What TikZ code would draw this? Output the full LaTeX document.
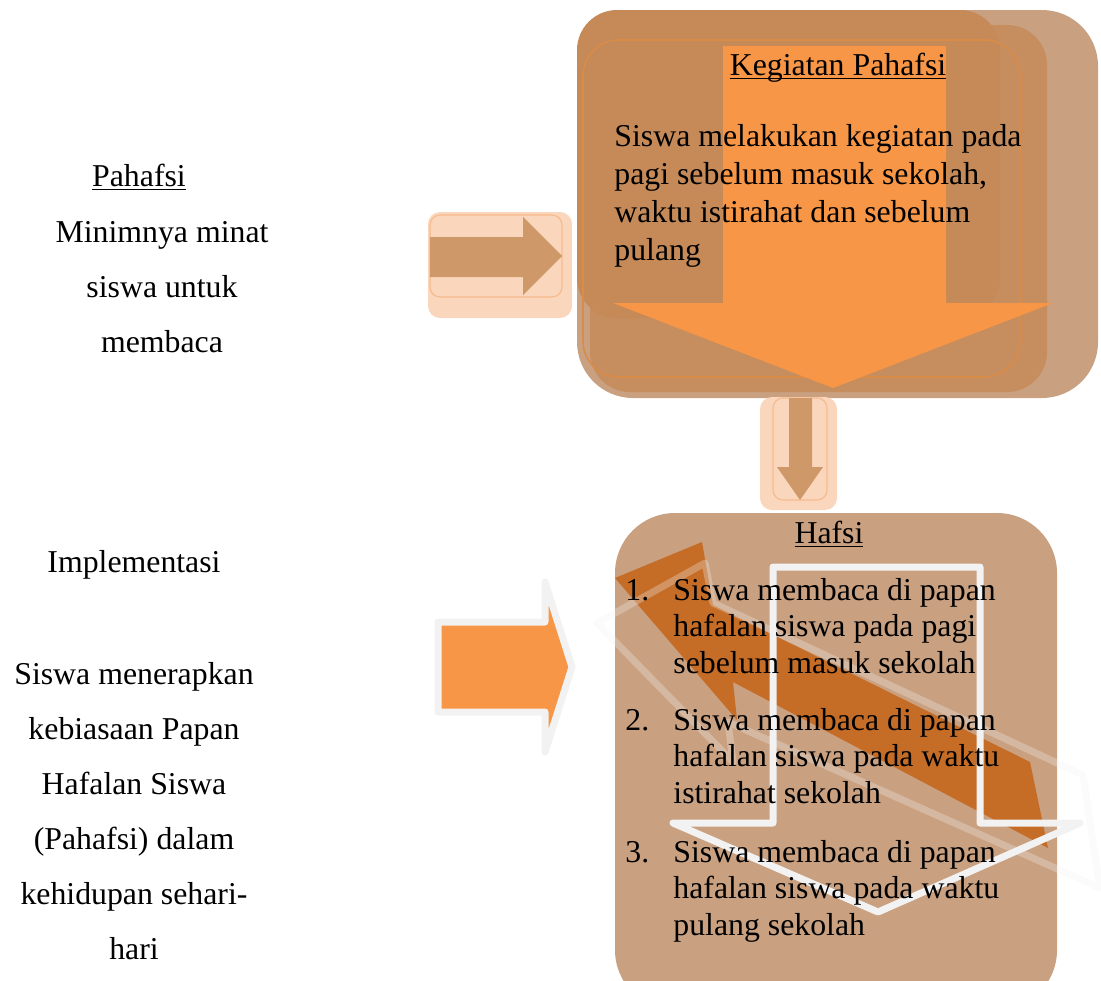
\documentclass[tikz,border=0pt]{standalone}
\usepackage{fontspec}
\setmainfont{Liberation Serif}
\definecolor{tanlight}{HTML}{C9A080}
\definecolor{tandark}{HTML}{C68D5E}
\definecolor{tandeep}{HTML}{C58A58}
\definecolor{edgeorange}{HTML}{D98B48}
\definecolor{mainorange}{HTML}{F79646}
\definecolor{rust}{HTML}{C56C26}
\definecolor{paleline}{HTML}{F2F2F2}
\definecolor{peach}{HTML}{FAD7BC}
\definecolor{peachedge}{HTML}{F6BB8E}
\definecolor{arrowbrown}{HTML}{CF9869}
\tikzset{
    bodytext/.style={font=\fontsize{15.9}{18.85}\selectfont,inner sep=0pt,align=left},
    sidetext/.style={font=\fontsize{15.9}{27.5}\selectfont,inner sep=0pt,align=center},
    listtext/.style={font=\fontsize{15.9}{18.25}\selectfont,inner sep=0pt,align=left,anchor=base west},
    peachbox/.style={fill=peach,rounded corners=6pt},
    peachframe/.style={draw=peachedge,line width=0.6pt,rounded corners=5pt},
}
\newcommand{\ulword}[1]{\leavevmode\setbox0=\hbox{#1}\rlap{\rule[-2.2pt]{\wd0}{0.8pt}}\box0}

\begin{document}
\begin{tikzpicture}[x=0.5pt,y=-0.5pt]
    \useasboundingbox (0,0) rectangle (1101,980);
    \clip (0,0) rectangle (1101,980);
    % kegiatan box
    \fill[tanlight,rounded corners=28pt] (577,10) rectangle (1098,398);
    \fill[tandark,rounded corners=20pt] (590,25) rectangle (1047,392);
    \fill[tandeep,rounded corners=20pt] (577,10) rectangle (1000,318);
    \draw[edgeorange,line width=0.8pt,rounded corners=18pt] (583,40) rectangle (1020,377);
    \fill[mainorange] (723,46) -- (946,46) -- (946,303) -- (1053,303) -- (833,388) -- (613,303) -- (723,303) -- cycle;
    % small arrows
    \fill[peachbox] (428,212) rectangle (572,318);
    \draw[peachframe] (430,215) rectangle (562,297);
    \fill[arrowbrown] (430,237) -- (523,237) -- (523,217) -- (562,256) -- (523,295) -- (523,277) -- (430,277) -- cycle;
    \fill[peachbox] (760,397) rectangle (837,510);
    \draw[peachframe] (773,398) rectangle (827,500);
    \fill[arrowbrown] (789,398) -- (812,398) -- (812,467) -- (823,467) -- (800,500) -- (777,467) -- (789,467) -- cycle;
    % hafsi box
    \fill[tanlight,rounded corners=30pt] (615,513) rectangle (1057,1010);
    \fill[rust] (615,578) -- (702,542) -- (713,605) -- (1030,762) -- (1048,848) -- (733,682) -- (737,720) -- cycle;
    \draw[paleline,opacity=0.3,line width=3.5pt,line join=round] (597,623) -- (705,563) -- (713,603) -- (1083,775) -- (1100,888) -- (728,722) -- (733,762) -- cycle;
    \draw[paleline,line width=3.5pt,line join=round] (773,567) -- (980,567) -- (980,823) -- (1080,823) -- (878,912) -- (673,823) -- (773,823) -- cycle;
    \draw[paleline,fill=mainorange,line width=3.5pt,line join=round] (438,622) -- (545,622) -- (545,582) -- (572,667) -- (545,752) -- (545,712) -- (438,712) -- cycle;

    \node[bodytext,anchor=base] (pahafsi) at (139,186) {\ulword{Pahafsi}};
    \node[sidetext,anchor=base] (masalah) at (162,352) {Minimnya minat\\siswa untuk\\membaca};
    \node[bodytext,anchor=base] (implementasi) at (134,572) {Implementasi};
    \node[sidetext,anchor=base] (penerapan) at (134,959) {Siswa menerapkan\\kebiasaan Papan\\Hafalan Siswa\\(Pahafsi) dalam\\kehidupan sehari-\\hari};

    \node[bodytext,anchor=base] (kegiatan) at (838,75) {\ulword{Kegiatan Pahafsi}};
    \node[bodytext,anchor=base west] (waktu) at (614,260) {Siswa melakukan kegiatan pada\\pagi sebelum masuk sekolah,\\waktu istirahat dan sebelum\\pulang};

    \node[bodytext,anchor=base] (hafsi) at (829,543) {\ulword{Hafsi}};
    \node[listtext] (num1) at (625,600) {1.};
    \node[listtext] (item1) at (673,673) {Siswa membaca di papan\\hafalan siswa pada pagi\\sebelum masuk sekolah};
    \node[listtext] (num2) at (625,730) {2.};
    \node[listtext] (item2) at (673,803) {Siswa membaca di papan\\hafalan siswa pada waktu\\istirahat sekolah};
    \node[listtext] (num3) at (625,862) {3.};
    \node[listtext] (item3) at (673,935) {Siswa membaca di papan\\hafalan siswa pada waktu\\pulang sekolah};
\end{tikzpicture}
\end{document}
